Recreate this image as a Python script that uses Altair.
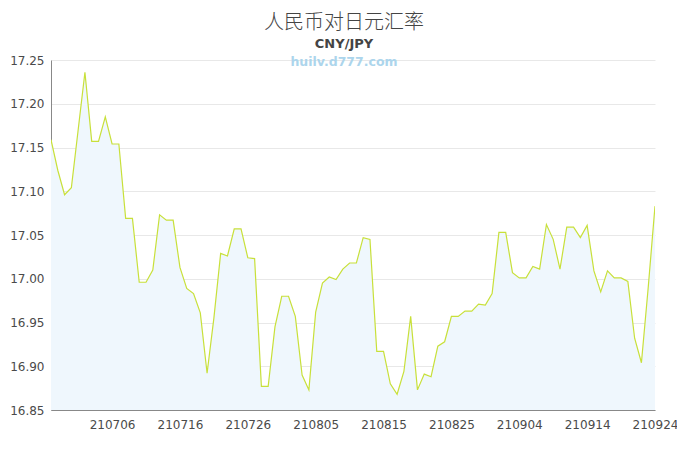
import altair as alt
import pandas as pd

title_text = "人民币对日元汇率"
subtitle_text = "CNY/JPY"
watermark = "huilv.d777.com"

start_date = "2021-06-27"
rates = [
    17.159, 17.124, 17.096, 17.104, 17.170, 17.236, 17.157, 17.157, 17.185, 17.154,
    17.154, 17.069, 17.069, 16.996, 16.996, 17.010, 17.073, 17.067, 17.067, 17.013,
    16.989, 16.983, 16.961, 16.892, 16.955, 17.029, 17.026, 17.057, 17.057, 17.024,
    17.023, 16.877, 16.877, 16.945, 16.980, 16.980, 16.957, 16.890, 16.873, 16.962,
    16.995, 17.002, 16.999, 17.011, 17.018, 17.018, 17.047, 17.045, 16.917, 16.917,
    16.880, 16.868, 16.894, 16.957, 16.873, 16.891, 16.888, 16.923, 16.928, 16.957,
    16.957, 16.963, 16.963, 16.971, 16.970, 16.983, 17.053, 17.053, 17.007, 17.001,
    17.001, 17.014, 17.011, 17.062, 17.045, 17.011, 17.059, 17.059, 17.047, 17.061,
    17.009, 16.985, 17.009, 17.001, 17.001, 16.997, 16.932, 16.904, 16.990, 17.083,
]
tick_dates = ["2021-07-06", "2021-07-16", "2021-07-26", "2021-08-05", "2021-08-15",
              "2021-08-25", "2021-09-04", "2021-09-14", "2021-09-24"]
y_ticks = [16.85, 16.90, 16.95, 17.00, 17.05, 17.10, 17.15, 17.20, 17.25]
y_min, y_max = 16.85, 17.25

dates = pd.date_range(start_date, periods=len(rates), freq="D")
df = pd.DataFrame({"date": dates.strftime("%Y-%m-%d"), "rate": rates, "base": y_min})

tick_ms = [int(pd.Timestamp(d, tz="UTC").timestamp() * 1000) for d in tick_dates]
dom = [int(pd.Timestamp(dates[0], tz="UTC").timestamp() * 1000),
       int(pd.Timestamp(dates[-1], tz="UTC").timestamp() * 1000)]

x_enc = alt.X(
    "date:T",
    scale=alt.Scale(type="utc", domain=dom, nice=False),
    axis=alt.Axis(
        values=tick_ms, labelExpr="utcFormat(datum.value, '%y%m%d')", title=None,
        ticks=False, grid=False, labelFlush=False, labelOverlap=False,
        labelPadding=9, labelFontSize=12, labelColor="#4a4a4a", labelFont="DejaVu Sans",
        domainColor="#888", domainWidth=1,
    ),
)
y_scale = alt.Scale(domain=[y_min, y_max], nice=False, zero=False)
y_axis = alt.Axis(
    values=y_ticks, format=".2f", title=None, ticks=False,
    grid=True, gridColor="#e8e8e8", gridWidth=1,
    labelPadding=7, labelFontSize=12, labelColor="#4a4a4a", labelFont="DejaVu Sans",
    domainColor="#888", domainWidth=1,
)

base = alt.Chart(df)
area = base.mark_area(color="#eff7fd", clip=True).encode(
    x=x_enc,
    y=alt.Y("rate:Q", scale=y_scale, axis=y_axis),
    y2="base:Q",
)
line = base.mark_line(color="#c8e03a", strokeWidth=1.2, clip=True).encode(
    x="date:T",
    y="rate:Q",
)
wm = alt.Chart(pd.DataFrame({"t": [watermark]})).mark_text(
    font="DejaVu Sans", fontSize=12.5, fontWeight="bold", color="#acd5ec",
    align="center", baseline="middle",
).encode(text="t:N", x=alt.value(293), y=alt.value(2))

chart = alt.layer(area, line, wm).properties(
    width=604, height=350,
    title=alt.TitleParams(
        text=title_text, subtitle=subtitle_text,
        font="Noto Sans CJK SC", fontSize=20, fontWeight=300, color="#444",
        subtitleFont="DejaVu Sans", subtitleFontSize=13, subtitleFontWeight="bold",
        subtitleColor="#444", subtitlePadding=5,
        anchor="middle", dx=-9, offset=3,
    ),
    autosize=alt.AutoSizeParams(type="none"),
    padding={"left": 43, "top": 52, "right": 22, "bottom": 32},
).configure_view(stroke=None)

chart.save("out.html", embed_options={"renderer": "svg", "actions": False})
